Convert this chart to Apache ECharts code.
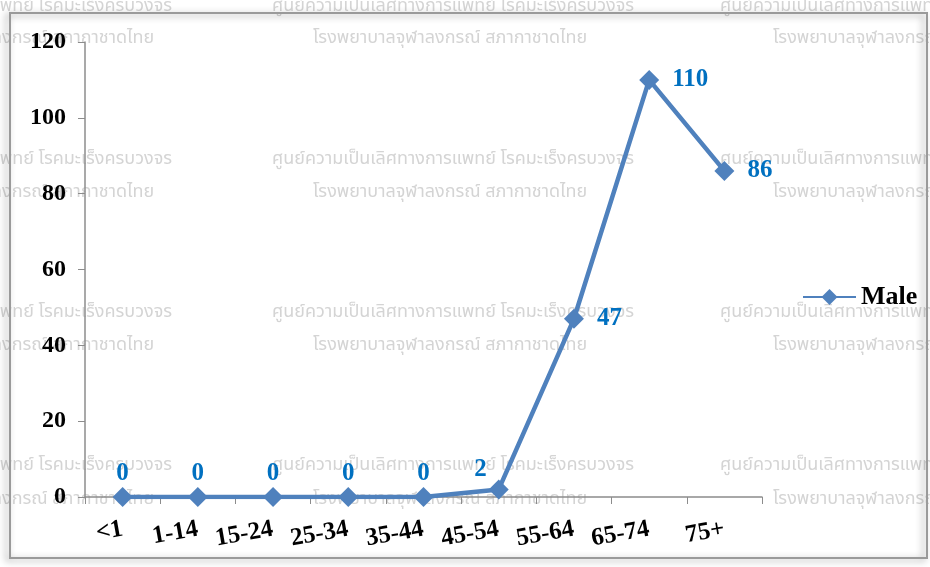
<!DOCTYPE html>
<html>
<head>
<meta charset="utf-8">
<script src="https://cdn.jsdelivr.net/npm/echarts@6/dist/echarts.min.js"></script>
<style>
html,body{margin:0;padding:0;background:#fff;}
#chart{width:930px;height:567px;}
</style>
</head>
<body>
<div id="chart"></div>
<script>
const categories = ['<1','1-14','15-24','25-34','35-44','45-54','55-64','65-74','75+'];
const maleValues = [0,0,0,0,0,2,47,110,86];
const seriesName = 'Male';
const yTicks = {min:0, max:120, interval:20};
const watermark1 = 'ศูนย์ความเป็นเลิศทางการแพทย์ โรคมะเร็งครบวงจร';
const watermark2 = 'โรงพยาบาลจุฬาลงกรณ์ สภากาชาดไทย';

const serif = "'Liberation Serif','Times New Roman',serif";
const thai = "'Noto Sans Thai','Noto Sans','DejaVu Sans',sans-serif";

const wm = [];
const rows1 = [8,161,314,467];
const rows2 = [40,194,347,501];
const cols1 = [-190,272,720];
const cols2 = [-120,313,773];
rows1.forEach(y=>cols1.forEach(x=>wm.push({type:'text',z:-10,left:x,top:y-10,style:{text:watermark1,fill:'#d4d4d4',font:'18px '+thai}})));
rows2.forEach(y=>cols2.forEach(x=>wm.push({type:'text',z:-10,left:x,top:y-10,style:{text:watermark2,fill:'#d4d4d4',font:'18px '+thai}})));

const labelPos = maleValues.map((v,i)=>{
  if (i<5) return {position:'top', distance:1};
  if (i===5) return {position:'left', offset:[4,-20], distance:6};
  return {position:'right', distance:13};
});

const chart = echarts.init(document.getElementById('chart'));
chart.setOption({
  animation:false,
  graphic: wm.concat([
    {type:'rect', z:-5, shape:{x:10,y:13,width:917,height:545},
     style:{fill:'none',stroke:'#9a9a9a',lineWidth:2,shadowBlur:7,shadowColor:'rgba(0,0,0,0.4)',shadowOffsetX:-3,shadowOffsetY:2}}
  ]),
  grid:{left:85,top:42,width:677,height:455},
  legend:{
    data:[seriesName], left:797, top:279, itemWidth:53, itemHeight:20, itemGap:3,
    textStyle:{fontFamily:serif,fontWeight:'bold',fontSize:26,color:'#000'}
  },
  xAxis:{
    type:'category', data:categories, boundaryGap:true,
    axisLine:{lineStyle:{color:'#8c8c8c',width:1.5}},
    axisTick:{show:true,interval:0,length:7,lineStyle:{color:'#8c8c8c'}},
    axisLabel:{interval:0,rotate:10,margin:32,fontFamily:serif,fontWeight:'bold',fontSize:25,color:'#000'}
  },
  yAxis:{
    type:'value', min:yTicks.min, max:yTicks.max, interval:yTicks.interval,
    axisLine:{show:true,lineStyle:{color:'#8c8c8c',width:1.5}},
    axisTick:{show:true,length:7,lineStyle:{color:'#8c8c8c'}},
    splitLine:{show:false},
    axisLabel:{margin:19,fontFamily:serif,fontWeight:'bold',fontSize:24,color:'#000'}
  },
  series:[{
    name:seriesName, type:'line', data:maleValues.map((v,i)=>({value:v,label:labelPos[i]})),
    symbol:'diamond', symbolSize:20,
    lineStyle:{color:'#4F81BD',width:4.5},
    itemStyle:{color:'#4F81BD'},
    label:{show:true,fontFamily:serif,fontWeight:'bold',fontSize:25,color:'#0070C0'}
  }]
});
</script>
</body>
</html>
